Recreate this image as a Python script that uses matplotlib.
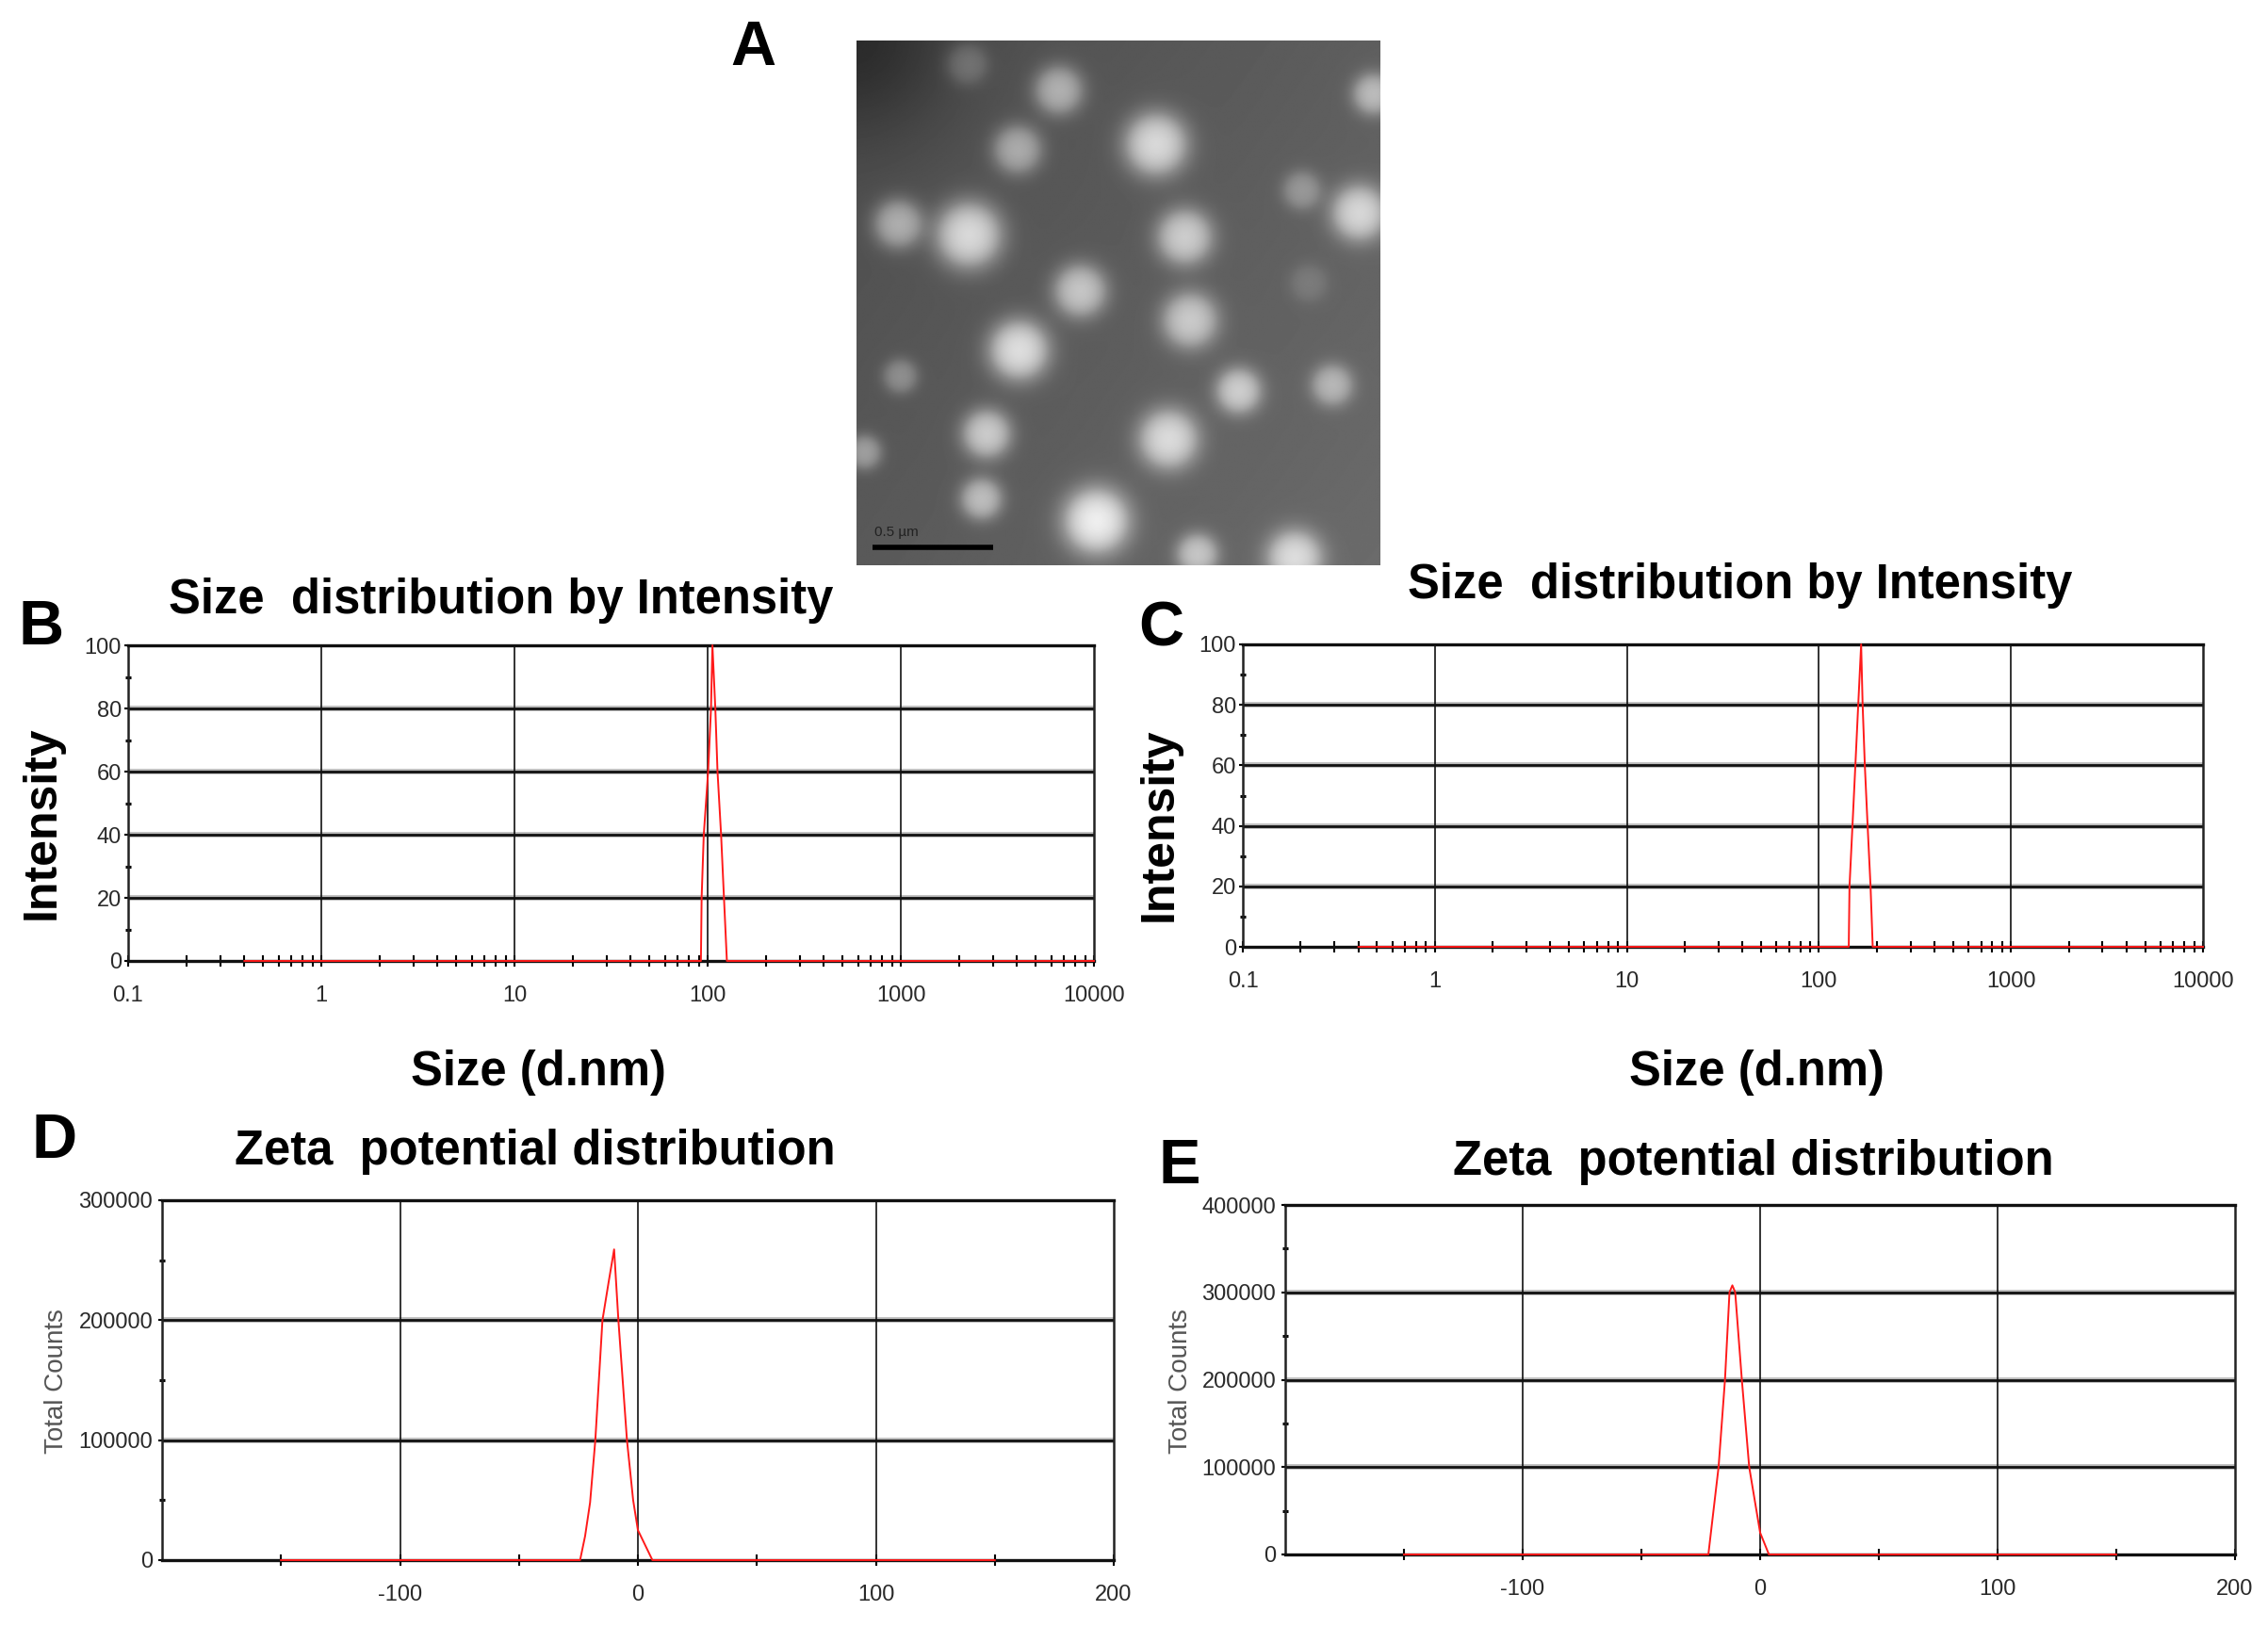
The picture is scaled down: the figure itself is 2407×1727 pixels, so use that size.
import numpy as np
import matplotlib
matplotlib.use('Agg')
import matplotlib.pyplot as plt
from matplotlib import font_manager
from matplotlib.ticker import FixedLocator, NullFormatter

# ---------------- data ----------------
size_ticks = [0.1, 1, 10, 100, 1000, 10000]
size_tick_labels = ['0.1', '1', '10', '100', '1000', '10000']
size_minor = [m * d for d in [0.1, 1, 10, 100, 1000] for m in range(2, 10)]
intensity_ticks = [0, 20, 40, 60, 80, 100]
intensity_minor = [10, 30, 50, 70, 90]

b_size = [0.4, 92.3, 93.1, 95.5, 100.6, 104.1, 105.9, 109.6, 112.5, 117.4, 121.5, 125.8, 10000]
b_intensity = [0, 0, 20, 40, 60, 80, 100, 80, 60, 40, 20, 0, 0]

c_size = [0.4, 143.0, 144.3, 149.5, 154.8, 160.2, 165.9, 168.9, 173.4, 179.3, 185.7, 190.6, 10000]
c_intensity = [0, 0, 20, 40, 60, 80, 100, 80, 60, 40, 20, 0, 0]

zeta_ticks = [-100, 0, 100, 200]
zeta_tick_labels = ['-100', '0', '100', '200']
zeta_minor = [-150, -50, 50, 150]

d_zeta = [-150, -24.3, -22.2, -20.1, -17.9, -14.9, -12.2, -10.0, -8.2, -4.6, -2.0, 0.0, 6.1, 150]
d_counts = [0, 0, 20000, 48000, 100000, 200000, 233000, 259000, 200000, 100000, 50000, 25000, 0, 0]
d_yticks = [0, 100000, 200000, 300000]
d_yminor = [50000, 150000, 250000]

e_zeta = [-150, -21.8, -17.5, -14.8, -12.9, -11.7, -10.5, -7.7, -4.6, 0.0, 3.7, 150]
e_counts = [0, 0, 100000, 200000, 300000, 308000, 300000, 200000, 100000, 25000, 0, 0]
e_yticks = [0, 100000, 200000, 300000, 400000]
e_yminor = [50000, 150000, 250000, 350000]

# TEM particles: centre x, centre y (fractions of image), radius (fraction of width), brightness
particle_x = [0.211, 0.386, 0.307, 0.572, 0.988, 0.851, 0.961, 0.079, 0.214, 0.627, 0.427, 0.637,
              0.310, 0.083, 0.730, 0.909, 0.248, 0.596, 0.014, 0.238, 0.458, 0.651, 0.837, 0.864]
particle_y = [0.044, 0.094, 0.207, 0.197, 0.101, 0.285, 0.328, 0.349, 0.370, 0.374, 0.477, 0.533,
              0.590, 0.640, 0.668, 0.657, 0.750, 0.760, 0.785, 0.874, 0.916, 0.980, 0.987, 0.462]
particle_r = [0.041, 0.048, 0.048, 0.062, 0.041, 0.038, 0.055, 0.048, 0.065, 0.055, 0.052, 0.055,
              0.059, 0.034, 0.045, 0.041, 0.048, 0.059, 0.034, 0.041, 0.065, 0.041, 0.055, 0.038]
particle_b = [0.16, 0.36, 0.34, 0.50, 0.36, 0.22, 0.46, 0.36, 0.52, 0.44, 0.42, 0.42,
              0.52, 0.22, 0.42, 0.32, 0.44, 0.48, 0.28, 0.38, 0.56, 0.38, 0.46, 0.10]

W, H = 2407, 1727
fig = plt.figure(figsize=(W / 100, H / 100), dpi=100)
plt.rcParams['font.family'] = ['Liberation Sans', 'DejaVu Sans']

installed = {f.name for f in font_manager.fontManager.ttflist}
if 'Liberation Sans Narrow' in installed:
    TICK_FAMILY, TICK_SIZE = 'Liberation Sans Narrow', 20
else:
    TICK_FAMILY, TICK_SIZE = 'Liberation Sans', 17

RED = '#ff1a1a'
TICKC = '#2a2a2a'


def rect(x0, y0, x1, y1):
    return [x0 / W, 1 - y1 / H, (x1 - x0) / W, (y1 - y0) / H]


def ftext(x, y, s, **kw):
    fig.text(x / W, 1 - y / H, s, **kw)


def style_common(ax, hgrid, vgrid):
    for v in hgrid:
        ax.axhline(v, color='#bdbdbd', lw=4.2, zorder=1)
        ax.axhline(v, color='#111111', lw=2.0, zorder=2)
    for v in vgrid:
        ax.axvline(v, color='#111111', lw=1.2, zorder=2)
    for s in ['top', 'bottom']:
        ax.spines[s].set_linewidth(2.4)
        ax.spines[s].set_color('#111111')
    for s in ['left', 'right']:
        ax.spines[s].set_linewidth(1.8)
        ax.spines[s].set_color('#222222')
    ax.tick_params(axis='y', which='major', direction='out', length=3, width=1.5,
                   pad=2, labelsize=TICK_SIZE, labelcolor=TICKC, labelfontfamily=TICK_FAMILY)
    ax.tick_params(axis='y', which='minor', direction='inout', length=5, width=2.2)
    ax.tick_params(axis='x', which='both', direction='inout', length=8, width=1.5,
                   pad=15, labelsize=TICK_SIZE, labelcolor=TICKC, labelfontfamily=TICK_FAMILY)
    ax.tick_params(top=False, right=False, which='both')


def size_panel(r, sizes, intens):
    ax = fig.add_axes(rect(*r))
    ax.set_xscale('log')
    ax.set_xlim(0.1, 10000)
    ax.set_ylim(0, 100)
    ax.xaxis.set_major_locator(FixedLocator(size_ticks))
    ax.set_xticklabels(size_tick_labels)
    ax.xaxis.set_minor_locator(FixedLocator(size_minor))
    ax.xaxis.set_minor_formatter(NullFormatter())
    ax.set_yticks(intensity_ticks)
    ax.set_yticklabels([str(v) for v in intensity_ticks])
    ax.yaxis.set_minor_locator(FixedLocator(intensity_minor))
    style_common(ax, [20, 40, 60, 80], [1, 10, 100, 1000])
    ax.plot(sizes, intens, color=RED, lw=1.4, clip_on=False, zorder=6)
    return ax


def zeta_panel(r, xs, ys, yticks, yminor, ymax):
    ax = fig.add_axes(rect(*r))
    ax.set_xlim(-200, 200)
    ax.set_ylim(0, ymax)
    ax.xaxis.set_major_locator(FixedLocator(zeta_ticks))
    ax.set_xticklabels(zeta_tick_labels)
    ax.xaxis.set_minor_locator(FixedLocator(zeta_minor))
    ax.xaxis.set_minor_formatter(NullFormatter())
    ax.set_yticks(yticks)
    ax.set_yticklabels([str(v) for v in yticks])
    ax.yaxis.set_minor_locator(FixedLocator(yminor))
    style_common(ax, yticks[1:-1], [-100, 0, 100])
    ax.tick_params(axis='y', which='major', pad=4)
    ax.plot(xs, ys, color=RED, lw=1.4, clip_on=False, zorder=6)
    return ax


# ---------------- panel A : micrograph ----------------
axA = fig.add_axes(rect(909, 43, 1464, 600))
n = 500
gy, gx = np.mgrid[0:n, 0:n] / (n - 1)
img = 0.30 + 0.07 * gx + 0.05 * gy - 0.13 * np.exp(-((gx) ** 2 + (gy) ** 2) / 0.035)
for px, py, pr, pb in zip(particle_x, particle_y, particle_r, particle_b):
    d = np.sqrt((gx - px) ** 2 + (gy - py) ** 2)
    img += pb * (1 / (1 + np.exp((d - pr) / (0.2 * pr)))) * (1 - 0.3 * (d / pr).clip(0, 1) ** 2)
axA.imshow(np.clip(img, 0, 1), cmap='gray', vmin=0, vmax=1, extent=[0, 1, 1, 0],
           aspect='auto', interpolation='bilinear')
axA.set_xlim(0, 1)
axA.set_ylim(1, 0)
axA.axis('off')
axA.plot([0.031, 0.262], [0.965, 0.965], color='black', lw=4, solid_capstyle='butt')
axA.text(0.034, 0.945, '0.5 µm', fontsize=11, color='#222222', ha='left', va='baseline')

# ---------------- panels B, C ----------------
size_panel((136, 685, 1161, 1020), b_size, b_intensity)
size_panel((1319, 684, 2338, 1005), c_size, c_intensity)

# ---------------- panels D, E ----------------
zeta_panel((172, 1274, 1182, 1656), d_zeta, d_counts, d_yticks, d_yminor, 300000)
zeta_panel((1364, 1279, 2372, 1650), e_zeta, e_counts, e_yticks, e_yminor, 400000)

# ---------------- texts ----------------
TF = 36.5
ftext(532, 651, 'Size  distribution by Intensity', fontsize=TF, fontweight='bold', ha='center', va='baseline')
ftext(1847, 635, 'Size  distribution by Intensity', fontsize=TF, fontweight='bold', ha='center', va='baseline')
ftext(568, 1236, 'Zeta  potential distribution', fontsize=TF, fontweight='bold', ha='center', va='baseline')
ftext(1861, 1247, 'Zeta  potential distribution', fontsize=TF, fontweight='bold', ha='center', va='baseline')

ftext(571, 1152, 'Size (d.nm)', fontsize=TF, fontweight='bold', ha='center', va='baseline')
ftext(1864, 1152, 'Size (d.nm)', fontsize=TF, fontweight='bold', ha='center', va='baseline')

ftext(45, 873, 'Intensity', fontsize=36, fontweight='bold', rotation=90, ha='center', va='center')
ftext(1231, 875, 'Intensity', fontsize=36, fontweight='bold', rotation=90, ha='center', va='center')

ftext(60, 1466, 'Total Counts', fontsize=20, color='#555555', rotation=90, ha='center', va='center')
ftext(1253, 1466, 'Total Counts', fontsize=20, color='#555555', rotation=90, ha='center', va='center')

LF = 48
ftext(775, 69, 'A', fontsize=LF, fontweight='bold', ha='left', va='baseline')
ftext(19, 684, 'B', fontsize=LF, fontweight='bold', ha='left', va='baseline')
ftext(1208, 685, 'C', fontsize=LF, fontweight='bold', ha='left', va='baseline')
ftext(34, 1229, 'D', fontsize=LF, fontweight='bold', ha='left', va='baseline')
ftext(1229, 1256, 'E', fontsize=LF, fontweight='bold', ha='left', va='baseline')

fig.savefig('out.png', dpi=100, facecolor='white')
